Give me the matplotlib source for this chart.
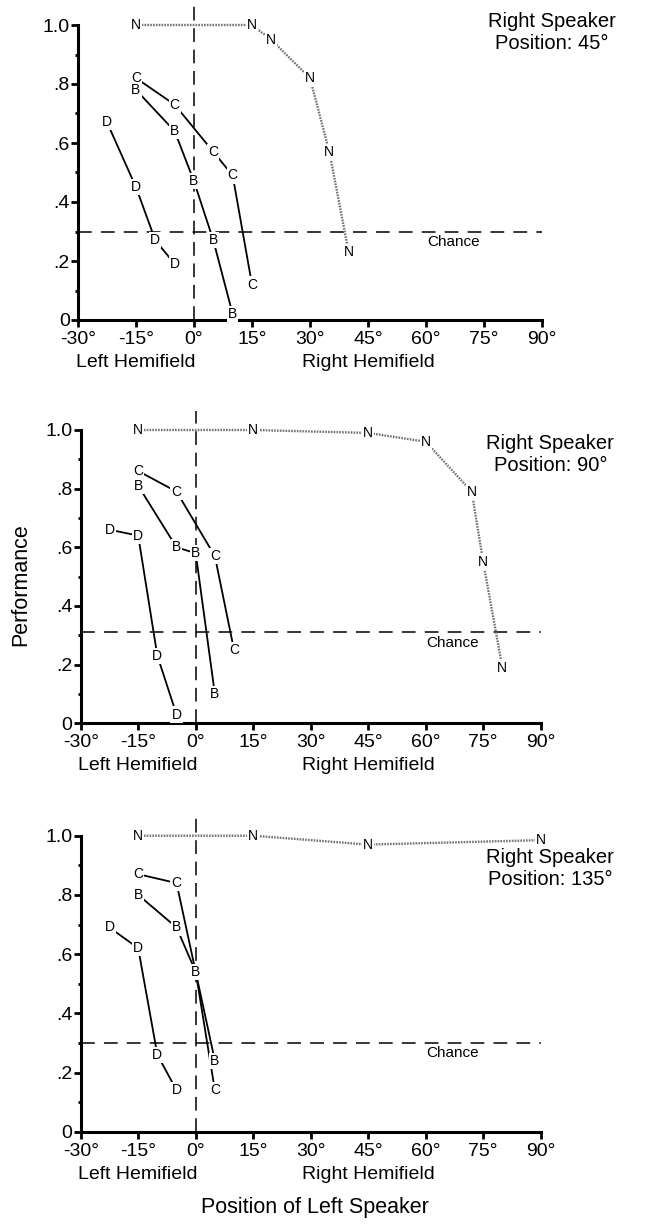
import matplotlib
matplotlib.use("Agg")
import matplotlib.pyplot as plt
from matplotlib.ticker import MultipleLocator, FixedLocator

plt.rcParams["font.family"] = ["Liberation Sans", "DejaVu Sans"]

# speaker positions for the three panels
speaker_pos = ["45°", "90°", "135°"]
chance = [0.30, 0.31, 0.30]

# left speaker position (deg) and performance per condition
n_x = [[-15, 15, 20, 30, 35, 40],
       [-15, 15, 45, 60, 72, 75, 80],
       [-15, 15, 45, 90]]
n_y = [[1.0, 1.0, 0.95, 0.82, 0.57, 0.23],
       [1.0, 1.0, 0.99, 0.96, 0.79, 0.55, 0.19],
       [1.0, 1.0, 0.97, 0.985]]

c_x = [[-15, -5, 5, 10, 15],
       [-15, -5, 5, 10],
       [-15, -5, 0, 5]]
c_y = [[0.82, 0.73, 0.57, 0.49, 0.12],
       [0.86, 0.79, 0.57, 0.25],
       [0.87, 0.84, 0.54, 0.14]]

b_x = [[-15, -5, 0, 5, 10],
       [-15, -5, 0, 5],
       [-15, -5, 0, 5]]
b_y = [[0.78, 0.64, 0.47, 0.27, 0.02],
       [0.81, 0.60, 0.58, 0.10],
       [0.80, 0.69, 0.54, 0.24]]

d_x = [[-22.5, -15, -10, -5],
       [-22.5, -15, -10, -5],
       [-22.5, -15, -10, -5]]
d_y = [[0.67, 0.45, 0.27, 0.19],
       [0.66, 0.64, 0.23, 0.03],
       [0.69, 0.62, 0.26, 0.14]]

x_ticks = [-30, -15, 0, 15, 30, 45, 60, 75, 90]
x_labels = ["%d°" % t for t in x_ticks]
y_ticks = [0, 0.2, 0.4, 0.6, 0.8, 1.0]
y_labels = ["0", ".2", ".4", ".6", ".8", "1.0"]

W, H = 647, 1225
fig = plt.figure(figsize = (W / 100, H / 100), dpi = 100)

# axes boxes in pixels: left, right, top (y=1), bottom (y=0)
boxes = [(78, 542, 25, 320),
         (80.7, 540.7, 430, 723.3),
         (80.7, 540.7, 835.7, 1131.7)]


def series(ax, xs, ys, letter, color = "black", lw = 1.3, ls = "-"):

    ax.plot(xs, ys, color = color, linewidth = lw, linestyle = ls, zorder = 2,
            clip_on = False, solid_capstyle = "butt")

    for x, y in zip(xs, ys):
        ax.text(x, y, letter, fontsize = 10, ha = "center", va = "center", zorder = 5,
                bbox = dict(boxstyle = "square,pad=0.08", fc = "white", ec = "none"),
                clip_on = False)


for i, (l, r, t, b) in enumerate(boxes):

    ax = fig.add_axes([l / W, (H - b) / H, (r - l) / W, (b - t) / H])
    ax.set_xlim(-30, 90)
    ax.set_ylim(0, 1.0)

    for side in ["top", "right"]:
        ax.spines[side].set_visible(False)
    for side in ["left", "bottom"]:
        ax.spines[side].set_linewidth(2.2)

    ax.xaxis.set_major_locator(FixedLocator(x_ticks))
    ax.set_xticklabels(x_labels)
    ax.yaxis.set_major_locator(FixedLocator(y_ticks))
    ax.set_yticklabels(y_labels)
    ax.yaxis.set_minor_locator(MultipleLocator(0.1))
    ax.tick_params(axis = "both", which = "major", direction = "out", length = 5, width = 2,
                   labelsize = 14, pad = 1)
    ax.tick_params(axis = "x", which = "major", pad = 3)
    ax.tick_params(axis = "y", which = "minor", direction = "out", length = 2.5, width = 2)
    ax.patch.set_alpha(0)

    # chance level and midline
    ax.plot([-30, 90], [chance[i], chance[i]], color = "black", linewidth = 1.1,
            dashes = (9, 6), zorder = 1, clip_on = False)
    ax.plot([0, 0], [0, 1.065], color = "black", linewidth = 1.1,
            dashes = (9, 5), zorder = 1, clip_on = False)
    ax.text(67, chance[i] - 0.035, "Chance", fontsize = 11, ha = "center", va = "center")

    series(ax, n_x[i], n_y[i], "N", color = "0.45", lw = 1.7, ls = (0, (0.7, 0.5)))
    series(ax, d_x[i], d_y[i], "D")
    series(ax, c_x[i], c_y[i], "C")
    series(ax, b_x[i], b_y[i], "B")

    ty = [0.975, 0.915, 0.89][i]
    ax.text(92.5, ty, "Right Speaker\nPosition: %s" % speaker_pos[i], fontsize = 14.5,
            ha = "center", va = "center", multialignment = "center", linespacing = 1.2)

    ax.text(-15, -0.145, "Left Hemifield", fontsize = 14, ha = "center", va = "center")
    ax.text(45, -0.145, "Right Hemifield", fontsize = 14, ha = "center", va = "center")

fig.text(21 / W, 1 - 585 / H, "Performance", fontsize = 15.5, rotation = 90,
         ha = "center", va = "center")
fig.text(315 / W, 1 - 1207 / H, "Position of Left Speaker", fontsize = 15.5,
         ha = "center", va = "center")

fig.savefig("out.png", dpi = 100)
